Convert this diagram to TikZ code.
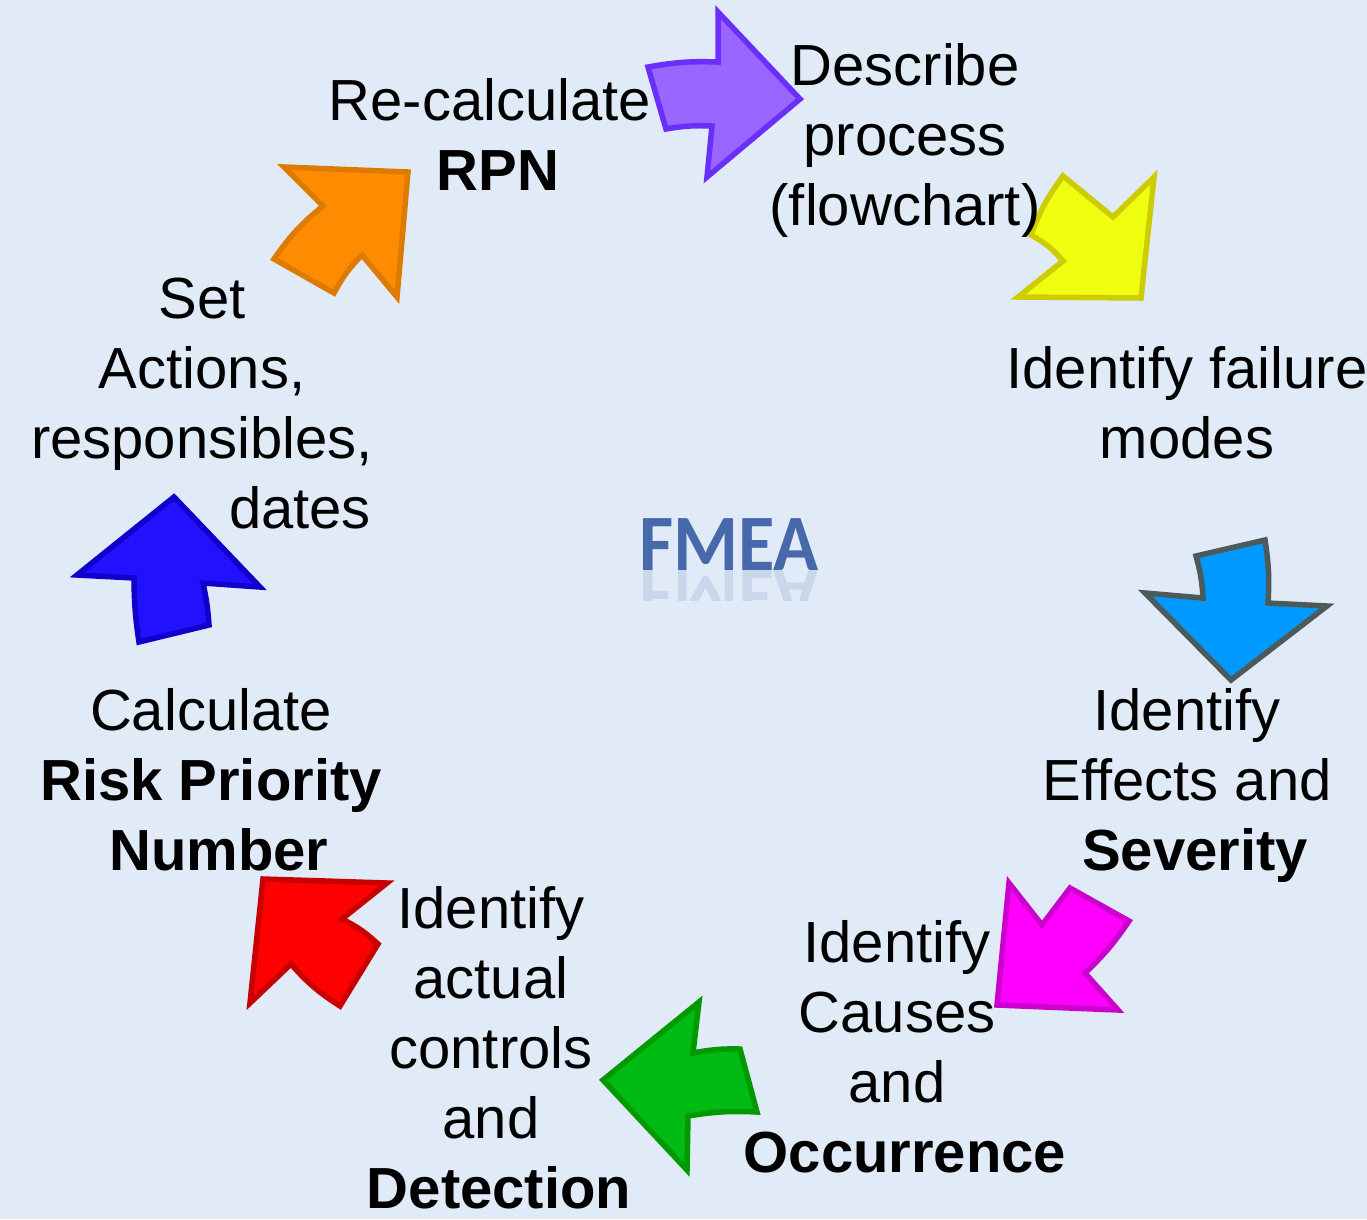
\documentclass[tikz,border=0pt]{standalone}
\usepackage{fontspec}
\setmainfont{Liberation Sans}
\newfontfamily\logofont{Carlito}
\definecolor{bgblue}{HTML}{E1EBF7}
\definecolor{logoblue}{RGB}{72,104,172}
\definecolor{purpleF}{HTML}{9966FF}\definecolor{purpleD}{HTML}{6A2EFF}
\definecolor{yellowF}{HTML}{F0FF10}\definecolor{yellowD}{HTML}{CCCC00}
\definecolor{skyF}{HTML}{0099FF}\definecolor{skyD}{HTML}{4D5A5A}
\definecolor{magF}{HTML}{FF00FF}\definecolor{magD}{HTML}{CC00CC}
\definecolor{greenF}{HTML}{00BB11}\definecolor{greenD}{HTML}{009900}
\definecolor{redF}{HTML}{FF0000}\definecolor{redD}{HTML}{C80000}
\definecolor{blueF}{HTML}{2211FF}\definecolor{blueD}{HTML}{1100CC}
\definecolor{orangeF}{HTML}{FF8C00}\definecolor{orangeD}{HTML}{DD7A00}
\newcommand{\shiftb}[1]{\hspace*{16pt}\textbf{#1}}
\begin{document}
\begin{tikzpicture}[x=1pt,y=-1pt,
  lbl/.style={align=center,anchor=base,inner sep=0pt,
    font=\fontsize{58}{70}\selectfont},
  cyc/.style 2 args={fill=#1,draw=#2,line width=5.5pt,line join=miter}]
\useasboundingbox (0,0) rectangle (1367,1219);
\fill[bgblue] (0,0) rectangle (1367,1219);

% cycle arrows
\path[cyc={purpleF}{purpleD}] (648,67) to[bend left=6] (718,62) -- (718,12) -- (800,99)
  -- (707,177) -- (712,126) to[bend right=6] (666,129) -- cycle;
\path[cyc={yellowF}{yellowD}] (1063,176) -- (1113,217) -- (1154,177) -- (1141,298)
  -- (1018,297) -- (1063,261) to[bend right=10] (1031,235) to[bend left=8] (1063,176) -- cycle;
\path[cyc={skyF}{skyD}] (1196,556) -- (1265,540) to[bend left=6] (1268,603) -- (1327,606)
  -- (1231,680) -- (1145,593) -- (1203,598) to[bend right=6] (1196,556) -- cycle;
\path[cyc={magF}{magD}] (1009,883) -- (1042,925) -- (1070,888) -- (1129,921)
  to[bend left=6] (1085,973) -- (1118,1010) -- (997,1005) -- cycle;
\path[cyc={greenF}{greenD}] (699,1002) -- (693,1053) to[bend left=6] (740,1049) -- (757,1112)
  to[bend right=6] (688,1116) -- (687,1170) -- (603,1080) -- cycle;
\path[cyc={redF}{redD}] (263,879) -- (387,883) -- (342,919) to[bend left=8] (378,944)
  -- (340,1006) to[bend left=8] (291,964) -- (250,1003) -- cycle;
\path[cyc={blueF}{blueD}] (174,497) -- (260,587) -- (203,583) to[bend left=4] (209,625)
  -- (139,642) to[bend left=4] (134,578) -- (77,575) -- cycle;
\path[cyc={orangeF}{orangeD}] (284,167) -- (408,172) -- (397,297) -- (362,255)
  to[bend right=8] (334,293) -- (274,259) to[bend left=8] (323,206) -- cycle;

% step labels (anchored at the baseline of the last line)
\node[lbl] (recalc) at (490,190) {Re-calculate\\\shiftb{RPN}};
\node[lbl] (describe) at (905,225) {Describe\\process\\(flowchart)};
\node[lbl] (modes) at (1187,458) {Identify failure\\modes};
\node[lbl] (effects) at (1187,870) {Identify\\Effects and\\\shiftb{Severity}};
\node[lbl] (causes) at (897,1172) {Identify\\Causes\\and\\\shiftb{Occurrence}};
\node[lbl] (controls) at (491,1208) {Identify\\actual\\controls\\and\\\shiftb{Detection}};
\node[lbl] (rpn) at (211,870) {Calculate\\\textbf{Risk Priority}\\\shiftb{Number}};
\node[lbl] (actions) at (202,528) {Set\\Actions,\\responsibles,\\\hspace*{196pt}dates};

% central title with its reflection
\node[inner sep=0pt,anchor=base,text=logoblue,xscale=0.93,
  font=\logofont\bfseries\fontsize{80}{80}\selectfont] (fmea) at (729,570) {FMEA};
\begin{scope}
  \clip (600,570) rectangle (860,600);
  \node[inner sep=0pt,anchor=base,text=logoblue,opacity=0.15,xscale=0.93,yscale=-1,
    font=\logofont\bfseries\fontsize{80}{80}\selectfont] (fmearef) at (729,570) {FMEA};
\end{scope}
\end{tikzpicture}
\end{document}
